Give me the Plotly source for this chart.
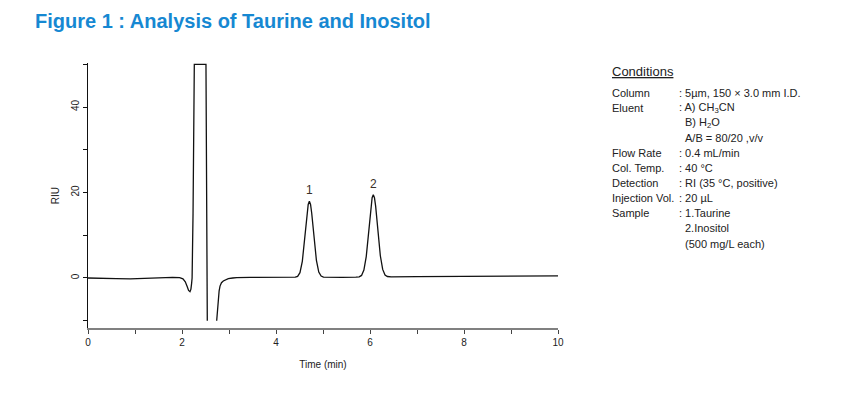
import plotly.graph_objects as go

# ---------------- data ----------------
time_min = [0.0, 0.3, 0.6, 0.9, 1.2, 1.5, 1.8, 1.95, 2.02, 2.07, 2.11, 2.14, 2.17, 2.19,
            2.205, 2.215, 2.235, 2.25, 2.262, 2.51, 2.525, 2.538, None,
            2.738, 2.755, 2.772, 2.79, 2.809, 2.84, 2.879, 2.93, 2.985, 3.08, 3.164,
            3.45, 3.8, 4.2, 4.35, 4.41, 4.46, 4.51, 4.56, 4.61, 4.66, 4.685, 4.71,
            4.735, 4.76, 4.81, 4.86, 4.91, 4.96, 5.01, 5.1, 5.4, 5.7, 5.77, 5.82,
            5.87, 5.92, 5.97, 6.02, 6.045, 6.07, 6.095, 6.12, 6.17, 6.22, 6.27,
            6.32, 6.37, 6.45, 7.0, 8.0, 9.0, 10.0]
signal_riu = [0.0, 0.0, -0.15, -0.2, -0.15, 0.05, 0.15, 0.1, -0.2, -0.9, -2.0, -2.9, -3.2, -2.6,
              -1.2, 0.0, 15.0, 32.0, 50.0, 50.0, 20.0, -10.0, None,
              -10.0, -7.0, -4.6, -3.0, -1.9, -1.1, -0.7, -0.35, -0.15, 0.0, 0.1,
              0.15, 0.15, 0.15, 0.2, 0.2, 0.38, 1.25, 3.9, 9.05, 15.15, 17.2, 17.95,
              17.2, 15.15, 9.2, 4.1, 1.4, 0.45, 0.2, 0.15, 0.15, 0.2, 0.28, 0.6,
              1.84, 5.0, 10.6, 16.74, 18.77, 19.5, 18.8, 16.8, 10.8, 5.2, 2.0,
              0.7, 0.35, 0.25, 0.3, 0.35, 0.4, 0.5]

peak_labels = ["1", "2"]
peak_times = [4.71, 6.07]
peak_heights = [17.95, 19.5]

x_tick_vals = [0, 2, 4, 6, 8, 10]
x_tick_text = ["0", "2", "4", "6", "8", "10"]
x_minor_step = 1
y_tick_vals = [0, 20, 40]
y_tick_text = ["0", "20", "40"]
y_minor_step = 10

title_text = "Figure 1 : Analysis of Taurine and Inositol"
cond_title = "Conditions"
cond_labels = ["Column", "Eluent", "", "", "Flow Rate", "Col. Temp.", "Detection",
               "Injection Vol.", "Sample", "", ""]
cond_values = [": 5\u00b5m, 150 \u00d7 3.0 mm I.D.", ": A) CH<sub>3</sub>CN", "B) H<sub>2</sub>O",
               "A/B = 80/20 ,v/v", ": 0.4 mL/min", ": 40 \u00b0C", ": RI (35 \u00b0C, positive)",
               ": 20 \u00b5L", ": 1.Taurine", "2.Inositol", "(500 mg/L each)"]

# ---------------- layout constants ----------------
W, H = 845, 399
OFF = 8  # page body margin
# target screen-pixel positions of the plot area
SX0, SX1, SY0, SY1 = 88, 558, 63, 327.7
ML = SX0 - OFF
MR = W - (SX1 - OFF)
MT = SY0 - OFF
MB = H - (SY1 - OFF)
FONT = "Liberation Sans, Arial, sans-serif"
plot_w = W - ML - MR
plot_h = H - MT - MB


def px_x(px):
    return (px - OFF - ML) / plot_w


def px_y(py):
    return (H - MB - (py - OFF)) / plot_h


fig = go.Figure()
fig.add_trace(go.Scatter(x=time_min, y=signal_riu, mode="lines",
                         line=dict(color="#111111", width=1.3),
                         connectgaps=False, hoverinfo="skip", showlegend=False))

annotations = []
for lab, t, h in zip(peak_labels, peak_times, peak_heights):
    annotations.append(dict(x=t, y=h, xref="x", yref="y", text=lab, showarrow=False,
                            yanchor="bottom", yshift=2,
                            font=dict(family=FONT, size=12, color="#3a3028")))

# title
annotations.append(dict(x=px_x(33), y=px_y(21), xref="paper", yref="paper", text="<b>" + title_text + "</b>",
                        showarrow=False, xanchor="left", yanchor="middle",
                        font=dict(family=FONT, size=20, color="#1688d2")))

# conditions block
annotations.append(dict(x=px_x(610), y=px_y(71), xref="paper", yref="paper",
                        text="<span style='text-decoration:underline'>" + cond_title + "</span>",
                        showarrow=False, xanchor="left", yanchor="middle",
                        font=dict(family=FONT, size=13, color="#222222")))
row0, row_step = 93.3, 15.0
for i, (lab, val) in enumerate(zip(cond_labels, cond_values)):
    yy = px_y(row0 + i * row_step)
    if lab:
        annotations.append(dict(x=px_x(610), y=yy, xref="paper", yref="paper", text=lab,
                                showarrow=False, xanchor="left", yanchor="middle",
                                font=dict(family=FONT, size=11, color="#222222")))
    xv = 677 if val.startswith(":") else 683
    annotations.append(dict(x=px_x(xv), y=yy, xref="paper", yref="paper", text=val,
                            showarrow=False, xanchor="left", yanchor="middle",
                            font=dict(family=FONT, size=11, color="#222222")))

fig.update_layout(
    width=W, height=H,
    margin=dict(l=ML, r=MR, t=MT, b=MB),
    paper_bgcolor="white", plot_bgcolor="white",
    font=dict(family=FONT, size=10, color="#222222"),
    annotations=annotations,
    xaxis=dict(range=[0, 10], tickvals=x_tick_vals, ticktext=x_tick_text,
               showgrid=False, zeroline=False, showline=True, linecolor="#808080", linewidth=2,
               ticks="outside", ticklen=4, tickcolor="#444444", tickwidth=1,
               minor=dict(dtick=x_minor_step, tick0=0, ticks="outside", ticklen=4,
                          tickcolor="#444444", tickwidth=1, showgrid=False),
               tickfont=dict(family=FONT, size=10, color="#222222"),
               title=dict(text="Time (min)", font=dict(family=FONT, size=10, color="#222222"), standoff=14)),
    yaxis=dict(range=[-11.7, 50.3], tickvals=y_tick_vals, ticktext=y_tick_text,
               showgrid=False, zeroline=False, showline=True, linecolor="#111111", linewidth=1,
               ticks="outside", ticklen=4, tickcolor="#111111", tickwidth=1, tickangle=-90,
               minor=dict(dtick=y_minor_step, tick0=0, ticks="outside", ticklen=4,
                          tickcolor="#111111", tickwidth=1, showgrid=False),
               tickfont=dict(family=FONT, size=10, color="#222222"),
               title=dict(text="RIU", font=dict(family=FONT, size=10, color="#222222"), standoff=8)),
)

fig.write_html("out.html")
